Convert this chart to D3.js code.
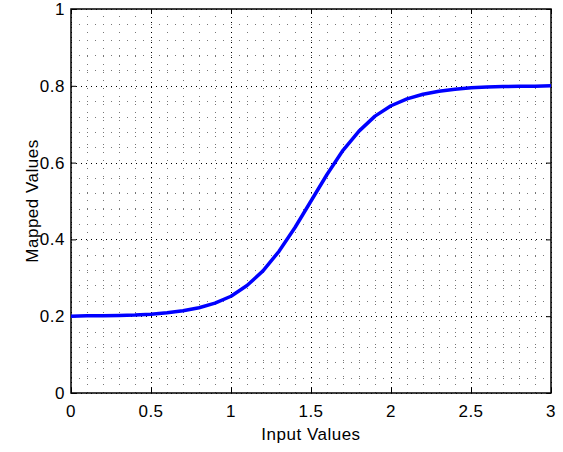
<!DOCTYPE html>
<html>
<head>
<meta charset="utf-8">
<script src="https://d3js.org/d3.v7.min.js"></script>
<style>
  body { margin: 0; background: #fff; }
  svg { display: block; font-family: "Liberation Sans", Arial, sans-serif; }
  .tick-label { font-size: 17px; letter-spacing: 0.5px; fill: #000; }
  .axis-title { font-size: 17px; letter-spacing: 0.5px; fill: #000; }
</style>
</head>
<body>
<svg id="chart"></svg>
<script>
  // values (step 0.1)
  const inputValues = [0, 0.1, 0.2, 0.3, 0.4, 0.5, 0.6, 0.7, 0.8, 0.9,
    1.0, 1.1, 1.2, 1.3, 1.4, 1.5, 1.6, 1.7, 1.8, 1.9,
    2.0, 2.1, 2.2, 2.3, 2.4, 2.5, 2.6, 2.7, 2.8, 2.9, 3.0];
  const mappedValues = [0.200, 0.201, 0.201, 0.202, 0.203, 0.205, 0.209, 0.214, 0.222, 0.234,
    0.252, 0.280, 0.318, 0.369, 0.431, 0.500, 0.569, 0.632, 0.682, 0.721,
    0.748, 0.766, 0.778, 0.786, 0.791, 0.795, 0.797, 0.798, 0.799, 0.799, 0.800];

  const xTicks = [0, 0.5, 1, 1.5, 2, 2.5, 3];
  const yTicks = [0, 0.2, 0.4, 0.6, 0.8, 1];
  const xMinor = d3.range(0, 31).map(i => i / 10);
  const yMinor = d3.range(0, 26).map(i => i * 0.04);

  const width = 563, height = 452;
  const margin = { left: 71, right: 12, top: 9, bottom: 59 };

  const svg = d3.select("#chart").attr("width", width).attr("height", height);

  const x = d3.scaleLinear().domain([0, 3]).range([margin.left, width - margin.right]);
  const y = d3.scaleLinear().domain([0, 1]).range([height - margin.bottom, margin.top]);

  const x0 = x.range()[0], x1 = x.range()[1];
  const y0 = y.range()[0], y1 = y.range()[1];

  // minor grid
  const grid = svg.append("g");
  grid.selectAll(".vminor").data(xMinor.filter(d => !xTicks.includes(+d.toFixed(1))))
    .enter().append("line")
    .attr("x1", d => Math.round(x(d)) + 0.5).attr("x2", d => Math.round(x(d)) + 0.5)
    .attr("y1", y0).attr("y2", y1)
    .attr("stroke", "#777").attr("stroke-width", 1).attr("stroke-dasharray", "1,7");
  grid.selectAll(".hminor").data(yMinor.filter((d, i) => i % 5 !== 0))
    .enter().append("line")
    .attr("y1", d => Math.round(y(d)) + 0.5).attr("y2", d => Math.round(y(d)) + 0.5)
    .attr("x1", x0).attr("x2", x1)
    .attr("stroke", "#777").attr("stroke-width", 1).attr("stroke-dasharray", "1,7");

  // major grid
  grid.selectAll(".vmajor").data(xTicks).enter().append("line")
    .attr("x1", d => Math.round(x(d)) + 0.5).attr("x2", d => Math.round(x(d)) + 0.5)
    .attr("y1", y0).attr("y2", y1)
    .attr("stroke", "#000").attr("stroke-width", 1).attr("stroke-dasharray", "1,4");
  grid.selectAll(".hmajor").data(yTicks).enter().append("line")
    .attr("y1", d => Math.round(y(d)) + 0.5).attr("y2", d => Math.round(y(d)) + 0.5)
    .attr("x1", x0).attr("x2", x1)
    .attr("stroke", "#000").attr("stroke-width", 1).attr("stroke-dasharray", "1,4");

  // axes (ticks inward on all four sides)
  svg.append("g").attr("transform", `translate(0,${y0})`)
    .call(d3.axisBottom(x).tickValues(xTicks).tickSize(-5).tickFormat(""));
  svg.append("g").attr("transform", `translate(0,${y1})`)
    .call(d3.axisTop(x).tickValues(xTicks).tickSize(-5).tickFormat(""));
  svg.append("g").attr("transform", `translate(${x0},0)`)
    .call(d3.axisLeft(y).tickValues(yTicks).tickSize(-5).tickFormat(""));
  svg.append("g").attr("transform", `translate(${x1},0)`)
    .call(d3.axisRight(y).tickValues(yTicks).tickSize(-5).tickFormat(""));
  svg.selectAll(".domain").remove();
  svg.selectAll(".tick line").attr("stroke", "#000").attr("stroke-width", 1);

  svg.append("rect")
    .attr("x", x0).attr("y", y1).attr("width", x1 - x0).attr("height", y0 - y1)
    .attr("fill", "none").attr("stroke", "#000").attr("stroke-width", 1.5);

  // tick labels
  svg.append("g").selectAll("text").data(xTicks).enter().append("text")
    .attr("class", "tick-label")
    .attr("x", d => x(d)).attr("y", y0 + 24)
    .attr("text-anchor", "middle")
    .text(d => d);
  svg.append("g").selectAll("text").data(yTicks).enter().append("text")
    .attr("class", "tick-label")
    .attr("x", x0 - 6).attr("y", d => y(d) + 6)
    .attr("text-anchor", "end")
    .text(d => d);

  // axis titles
  svg.append("text").attr("class", "axis-title")
    .attr("x", (x0 + x1) / 2).attr("y", 440)
    .attr("text-anchor", "middle")
    .text("Input Values");
  svg.append("text").attr("class", "axis-title")
    .attr("transform", `translate(38,${(y0 + y1) / 2}) rotate(-90)`)
    .attr("text-anchor", "middle")
    .text("Mapped Values");

  // curve
  const line = d3.line()
    .x((d, i) => x(inputValues[i]))
    .y(d => y(d));
  svg.append("path")
    .datum(mappedValues)
    .attr("fill", "none")
    .attr("stroke", "#0000ff")
    .attr("stroke-width", 3.5)
    .attr("stroke-linejoin", "round")
    .attr("d", line);
</script>
</body>
</html>
